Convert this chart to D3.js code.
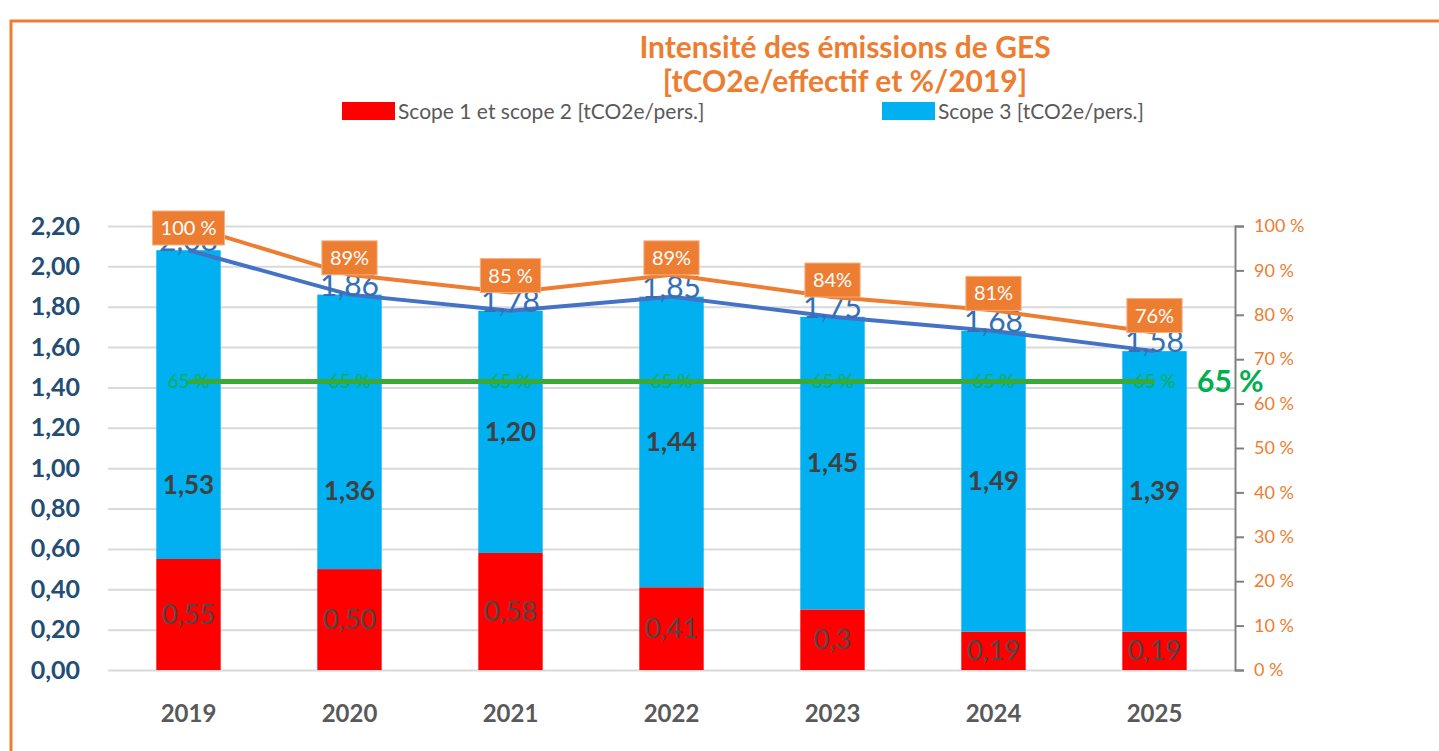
<!DOCTYPE html>
<html>
<head>
<meta charset="UTF-8">
<style>
  body { margin: 0; background: #fff; }
  svg { display: block; font-family: Lato, "Open Sans", sans-serif; }
</style>
</head>
<body>
<svg></svg>
<script src="https://cdn.jsdelivr.net/npm/d3@7"></script>
<script>
const width = 1439, height = 751;

// data
const years = ["2019", "2020", "2021", "2022", "2023", "2024", "2025"];
const scope12 = [0.55, 0.50, 0.58, 0.41, 0.30, 0.19, 0.19];
const scope12Labels = ["0,55", "0,50", "0,58", "0,41", "0,3", "0,19", "0,19"];
const scope3 = [1.53, 1.36, 1.20, 1.44, 1.45, 1.49, 1.39];
const totals = [2.08, 1.86, 1.78, 1.85, 1.75, 1.68, 1.58];
const ratio = [1.00, 0.89, 0.85, 0.89, 0.84, 0.81, 0.76];
const ratioLabels = ["100 %", "89%", "85 %", "89%", "84%", "81%", "76%"];
const target = [0.65, 0.65, 0.65, 0.65, 0.65, 0.65, 0.65];
const leftTicks = [0, 0.2, 0.4, 0.6, 0.8, 1.0, 1.2, 1.4, 1.6, 1.8, 2.0, 2.2];
const rightTicks = [0, 0.1, 0.2, 0.3, 0.4, 0.5, 0.6, 0.7, 0.8, 0.9, 1.0];

// label nudges for the scope 3 values (placed lower in the original)
const scope3LabelShift = [80, 59, 0, 0, 0, 0, 0];

const orange = "#ed7d31", blueLine = "#4472c4", green = "#3aa935";

const svg = d3.select("svg").attr("width", width).attr("height", height);

// orange frame
svg.append("path")
  .attr("d", "M11,751 L11,21 L1439,21")
  .attr("fill", "none").attr("stroke", orange).attr("stroke-width", 3);

const x = d3.scaleBand().domain(years).range([108, 1235]).paddingInner(0.6).paddingOuter(0.3);
const y = d3.scaleLinear().domain([0, 2.2]).range([670, 226]);
const yr = d3.scaleLinear().domain([0, 1]).range([670, 226]);
const cx = d => x(d) + x.bandwidth() / 2;
const comma = d3.format(".2f");

// gridlines + left axis
const yAxis = svg.append("g").attr("transform", "translate(108,0)")
  .call(d3.axisLeft(y).tickValues(leftTicks).tickSize(-1127)
    .tickFormat(d => comma(d).replace(".", ",")).tickPadding(28));
yAxis.select(".domain").remove();
yAxis.selectAll("line").attr("stroke", "#d9d9d9").attr("stroke-width", 2);
yAxis.selectAll("text").attr("fill", "#234d74").attr("font-size", 25)
  .attr("font-weight", "bold").attr("font-family", "Lato");

// right axis
const rAxis = svg.append("g").attr("transform", "translate(1235,0)")
  .call(d3.axisRight(yr).tickValues(rightTicks).tickSize(9).tickPadding(10)
    .tickFormat(d => Math.round(d * 100) + " %"));
rAxis.select(".domain").attr("stroke", "#808080").attr("stroke-width", 2);
rAxis.selectAll("line").attr("stroke", "#808080").attr("stroke-width", 2);
rAxis.selectAll("text").attr("fill", orange).attr("font-size", 18).attr("font-family", "Lato");

// x labels
svg.append("g").selectAll("text").data(years).join("text")
  .attr("x", d => cx(d)).attr("y", 722)
  .attr("text-anchor", "middle").attr("font-size", 24).attr("font-weight", "bold")
  .attr("fill", "#595959").text(d => d);

// stacked bars
const bars = svg.append("g");
bars.selectAll("rect.s12").data(years).join("rect").attr("class", "s12")
  .attr("x", d => x(d)).attr("width", x.bandwidth())
  .attr("y", (d, i) => y(scope12[i])).attr("height", (d, i) => y(0) - y(scope12[i]))
  .attr("fill", "#ff0000");
bars.selectAll("rect.s3").data(years).join("rect").attr("class", "s3")
  .attr("x", d => x(d)).attr("width", x.bandwidth())
  .attr("y", (d, i) => y(scope12[i] + scope3[i]))
  .attr("height", (d, i) => y(scope12[i]) - y(scope12[i] + scope3[i]))
  .attr("fill", "#00b0f0");

// bar labels
bars.selectAll("text.l12").data(years).join("text").attr("class", "l12")
  .attr("x", d => cx(d)).attr("y", (d, i) => y(scope12[i] / 2))
  .attr("dy", "0.35em").attr("text-anchor", "middle")
  .attr("font-size", 27).attr("fill", "#4a4a4a")
  .text((d, i) => scope12Labels[i]);
bars.selectAll("text.l3").data(years).join("text").attr("class", "l3")
  .attr("x", d => cx(d)).attr("y", (d, i) => y(scope12[i] + scope3[i] / 2) + scope3LabelShift[i])
  .attr("dy", "0.35em").attr("text-anchor", "middle")
  .attr("font-size", 26).attr("font-weight", "bold").attr("fill", "#404040")
  .text((d, i) => comma(scope3[i]).replace(".", ","));

// 65% target: small labels then line
svg.append("g").selectAll("text").data(years).join("text")
  .attr("x", d => cx(d)).attr("y", (d, i) => yr(target[i]))
  .attr("dy", "0.35em").attr("text-anchor", "middle")
  .attr("font-size", 19).attr("fill", "#00b050").text("65 %");
svg.append("path")
  .datum(years)
  .attr("fill", "none").attr("stroke", green).attr("stroke-width", 5)
  .attr("d", d3.line().x(d => cx(d)).y((d, i) => yr(target[i])));
svg.append("text")
  .attr("x", 1197).attr("y", yr(target[6])).attr("dy", "0.35em")
  .attr("font-size", 30).attr("font-weight", "bold").attr("fill", "#00b050").text("65 %");

// total line + labels
svg.append("path").datum(years)
  .attr("fill", "none").attr("stroke", blueLine).attr("stroke-width", 4)
  .attr("d", d3.line().x(d => cx(d)).y((d, i) => y(totals[i])));
svg.append("g").selectAll("text").data(years).join("text")
  .attr("x", d => cx(d)).attr("y", (d, i) => y(totals[i]) + 1)
  .attr("text-anchor", "middle").attr("font-size", 30)
  .attr("fill", "#3470b5").text((d, i) => comma(totals[i]).replace(".", ","));

// ratio line + boxed labels
svg.append("path").datum(years)
  .attr("fill", "none").attr("stroke", orange).attr("stroke-width", 4)
  .attr("d", d3.line().x(d => cx(d)).y((d, i) => yr(ratio[i])));
const boxes = svg.append("g").selectAll("g").data(years).join("g")
  .attr("transform", (d, i) => `translate(${cx(d)},${Math.max(yr(ratio[i]) - 17, 228)})`);
boxes.append("text")
  .attr("text-anchor", "middle").attr("dy", "0.35em")
  .attr("font-size", 20).attr("fill", "#fff")
  .text((d, i) => ratioLabels[i]);
boxes.each(function () {
  const g = d3.select(this);
  const bb = g.select("text").node().getBBox();
  g.insert("rect", "text")
    .attr("x", bb.x - 8).attr("width", bb.width + 16)
    .attr("y", -17).attr("height", 34)
    .attr("fill", orange).attr("stroke", "#f4b183").attr("stroke-width", 1);
});

// title
svg.append("text").attr("x", 845).attr("y", 58).attr("text-anchor", "middle")
  .attr("font-size", 30).attr("font-weight", "bold").attr("fill", orange)
  .text("Intensité des émissions de GES");
svg.append("text").attr("x", 845).attr("y", 92).attr("text-anchor", "middle")
  .attr("font-size", 30).attr("font-weight", "bold").attr("fill", orange)
  .text("[tCO2e/effectif et %/2019]");

// legend
const legendItems = [
  { name: "Scope 1 et scope 2 [tCO2e/pers.]", color: "#ff0000", x: 342 },
  { name: "Scope 3 [tCO2e/pers.]", color: "#00b0f0", x: 882 }
];
const lg = svg.append("g").selectAll("g").data(legendItems).join("g")
  .attr("transform", d => `translate(${d.x},102)`);
lg.append("rect").attr("width", 53).attr("height", 18).attr("fill", d => d.color);
lg.append("text").attr("x", 56).attr("y", 17).attr("font-size", 21)
  .attr("fill", "#5a5a5a").text(d => d.name);
</script>
</body>
</html>
